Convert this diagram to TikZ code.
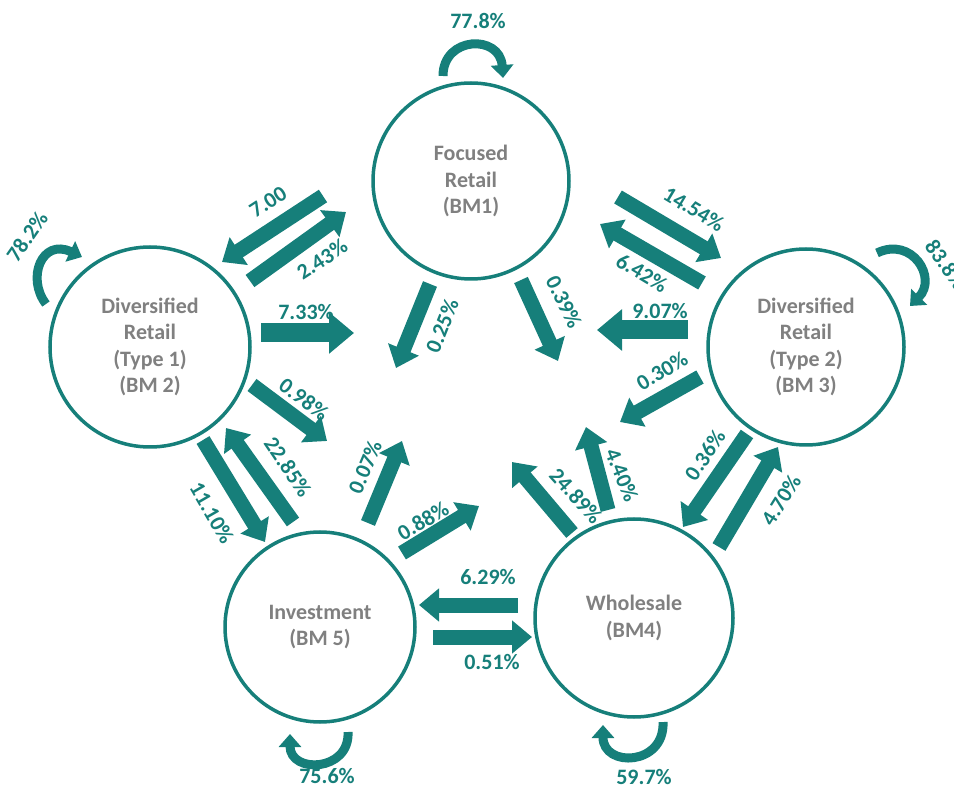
\documentclass[tikz,border=0pt]{standalone}
\usepackage{fontspec}
\setmainfont{Carlito}
\usetikzlibrary{arrows.meta}
\definecolor{tealc}{RGB}{22,127,122}
\definecolor{txtgray}{RGB}{128,128,128}
\begin{document}
\begin{tikzpicture}[x=1pt,y=-1pt,
  bm/.style={circle, draw=tealc, line width=3.5pt, inner sep=0pt, align=center,
    text=txtgray, font=\bfseries\fontsize{22}{26.5}\selectfont},
  lbl/.style={text=tealc, font=\bfseries\fontsize{22}{26}\selectfont, inner sep=0pt},
  barrow/.style={draw=tealc, line width=15pt, -{Triangle[width=32pt,length=20pt]}},
  bigarrow/.style={draw=tealc, line width=19pt, -{Triangle[width=40pt,length=25pt]}},
  loop/.style={draw=tealc, line width=9pt, -{Triangle[width=22pt,length=13pt]}}
]
\useasboundingbox (0,0) rectangle (954,791);

% circles
\node[bm, minimum size=196pt] (bm1) at (471,181) {Focused\\Retail\\(BM1)};
\node[bm, minimum size=200pt] (bm2) at (150,347) {Diversified\\Retail\\(Type 1)\\(BM 2)};
\node[bm, minimum size=196pt] (bm3) at (806,347) {Diversified\\Retail\\(Type 2)\\(BM 3)};
\node[bm, minimum size=198pt] (bm4) at (634,618) {Wholesale\\(BM4)};
\node[bm, minimum size=190pt] (bm5) at (320,627) {Investment\\(BM 5)};

% straight arrows
\coordinate (t1) at (323,196); \coordinate (h1) at (222,262);
\draw[barrow] (t1) -- (h1);
\node[lbl, rotate=33] (l1) at (268,202) {7.00};

\coordinate (t2) at (250,281); \coordinate (h2) at (346,212);
\draw[barrow] (t2) -- (h2);
\node[lbl, rotate=33] (l2) at (322,259) {2.43\%};

\coordinate (t3) at (261,333); \coordinate (h3) at (354,333);
\draw[bigarrow] (t3) -- (h3);
\node[lbl] (l3) at (306,312) {7.33\%};

\coordinate (t4) at (252,385); \coordinate (h4) at (327,441);
\draw[barrow] (t4) -- (h4);
\node[lbl, rotate=-37] (l4) at (304,399) {0.98\%};

\coordinate (t5) at (203,440); \coordinate (h5) at (265,542);
\draw[barrow] (t5) -- (h5);
\node[lbl, rotate=-60] (l5) at (212,513) {11.10\%};

\coordinate (t6) at (293,522); \coordinate (h6) at (226,428);
\draw[barrow] (t6) -- (h6);
\node[lbl, rotate=-56] (l6) at (288,467) {22.85\%};

\coordinate (t7) at (368,523); \coordinate (h7) at (402,441);
\draw[barrow] (t7) -- (h7);
\node[lbl, rotate=67] (l7) at (365,467) {0.07\%};

\coordinate (t8) at (402,553); \coordinate (h8) at (479,506);
\draw[barrow] (t8) -- (h8);
\node[lbl, rotate=31] (l8) at (423,521) {0.88\%};

\coordinate (t9) at (518,605); \coordinate (h9) at (419,605);
\draw[barrow] (t9) -- (h9);
\node[lbl] (l9) at (488,577) {6.29\%};

\coordinate (t10) at (433,637); \coordinate (h10) at (532,637);
\draw[barrow] (t10) -- (h10);
\node[lbl] (l10) at (492,662) {0.51\%};

\coordinate (t11) at (572,533); \coordinate (h11) at (512,462);
\draw[barrow] (t11) -- (h11);
\node[lbl, rotate=-48] (l11) at (576,496) {24.89\%};

\coordinate (t12) at (608,510); \coordinate (h12) at (586,427);
\draw[barrow] (t12) -- (h12);
\node[lbl, rotate=-68] (l12) at (622,475) {4.40\%};

\coordinate (t13) at (700,377); \coordinate (h13) at (620,422);
\draw[barrow] (t13) -- (h13);
\node[lbl, rotate=31] (l13) at (662,371) {0.30\%};

\coordinate (t14) at (688,330); \coordinate (h14) at (597,330);
\draw[bigarrow] (t14) -- (h14);
\node[lbl] (l14) at (660,311) {9.07\%};

\coordinate (t15) at (618,197); \coordinate (h15) at (721,258);
\draw[barrow] (t15) -- (h15);
\node[lbl, rotate=-31] (l15) at (694,209) {14.54\%};

\coordinate (t16) at (702,283); \coordinate (h16) at (600,224);
\draw[barrow] (t16) -- (h16);
\node[lbl, rotate=-31] (l16) at (642,273) {6.42\%};

\coordinate (t17) at (430,284); \coordinate (h17) at (396,368);
\draw[barrow] (t17) -- (h17);
\node[lbl, rotate=68] (l17) at (442,326) {0.25\%};

\coordinate (t18) at (521,280); \coordinate (h18) at (558,361);
\draw[barrow] (t18) -- (h18);
\node[lbl, rotate=-64] (l18) at (564,302) {0.39\%};

\coordinate (t19) at (747,434); \coordinate (h19) at (683,527);
\draw[barrow] (t19) -- (h19);
\node[lbl, rotate=56] (l19) at (705,455) {0.36\%};

\coordinate (t20) at (719,547); \coordinate (h20) at (778,447);
\draw[barrow] (t20) -- (h20);
\node[lbl, rotate=58] (l20) at (781,500) {4.70\%};

% self loops
\coordinate (s1a) at (443,76); \coordinate (s1b) at (503,78);
\draw[loop] (s1a) .. controls (443,36) and (500,34) .. (s1b);
\node[lbl] (p1) at (478,21) {77.8\%};

\coordinate (s2a) at (46,304); \coordinate (s2b) at (82,257);
\draw[loop] (s2a) .. controls (26,278) and (42,238) .. (s2b);
\node[lbl, rotate=55] (p2) at (27,237) {78.2\%};

\coordinate (s3a) at (877,253); \coordinate (s3b) at (910,306);
\draw[loop] (s3a) .. controls (912,236) and (938,278) .. (s3b);
\node[lbl, rotate=-55] (p3) at (946,265) {83.8\%};

\coordinate (s4a) at (348,732); \coordinate (s4b) at (290,734);
\draw[loop] (s4a) .. controls (350,772) and (290,774) .. (s4b);
\node[lbl] (p4) at (327,776) {75.6\%};

\coordinate (s5a) at (663,722); \coordinate (s5b) at (603,725);
\draw[loop] (s5a) .. controls (665,766) and (603,768) .. (s5b);
\node[lbl] (p5) at (644,777) {59.7\%};
\end{tikzpicture}
\end{document}
